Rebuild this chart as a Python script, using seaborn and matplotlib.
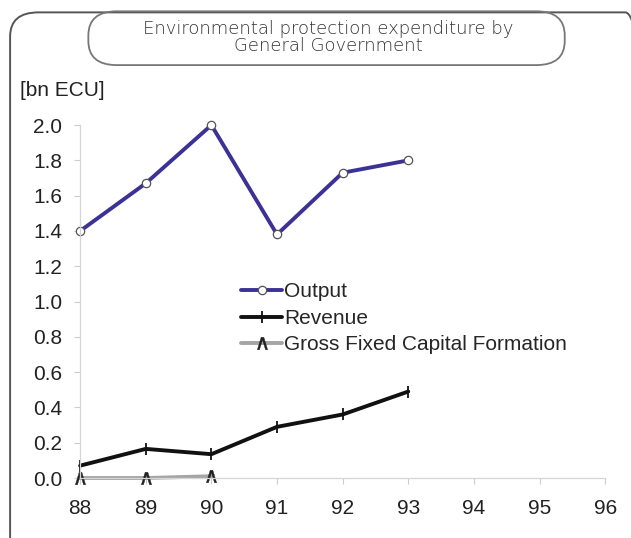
import pandas as pd
import matplotlib.pyplot as plt
import seaborn as sns
from matplotlib.patches import FancyBboxPatch

# data
years = [88, 89, 90, 91, 92, 93]
output = [1.40, 1.67, 2.00, 1.38, 1.73, 1.80]
revenue = [0.07, 0.165, 0.135, 0.29, 0.36, 0.49]
gfcf_years = [88, 89, 90]
gfcf = [0.0, 0.0, 0.01]

x_ticks = [88, 89, 90, 91, 92, 93, 94, 95, 96]
y_ticks = [0.0, 0.2, 0.4, 0.6, 0.8, 1.0, 1.2, 1.4, 1.6, 1.8, 2.0]

df_out = pd.DataFrame({'year': years, 'value': output})
df_rev = pd.DataFrame({'year': years, 'value': revenue})
df_gfcf = pd.DataFrame({'year': gfcf_years, 'value': gfcf})

sns.set_theme(style='white')
plt.rcParams['font.family'] = ['Liberation Sans', 'DejaVu Sans']

fig = plt.figure(figsize=(6.31, 5.38), dpi=100)
ax = fig.add_axes([0.127, 0.1115, 0.832, 0.656])

sns.lineplot(data=df_out, x='year', y='value', ax=ax, color='#3b3196', linewidth=2.8,
             marker='o', markersize=6, markerfacecolor='white', markeredgecolor='#555555',
             markeredgewidth=0.9, label='Output', clip_on=False)
sns.lineplot(data=df_rev, x='year', y='value', ax=ax, color='#111111', linewidth=2.8,
             marker='|', markersize=9, markeredgecolor='#111111',
             markeredgewidth=1.3, label='Revenue', clip_on=False)
sns.lineplot(data=df_gfcf, x='year', y='value', ax=ax, color='#a5a5a5', linewidth=2.8,
             marker=r'$\wedge$', markersize=9, markerfacecolor='#222222',
             markeredgecolor='#222222', markeredgewidth=0.3,
             label='Gross Fixed Capital Formation', clip_on=False)

ax.set_xlim(88, 96)
ax.set_ylim(0, 2.0)
ax.set_xticks(x_ticks)
ax.set_xticklabels([str(t) for t in x_ticks])
ax.set_yticks(y_ticks)
ax.set_yticklabels([f'{t:.1f}' for t in y_ticks])
ax.set_xlabel('')
ax.set_ylabel('')
ax.tick_params(axis='both', labelsize=15, length=4, width=0.8,
               direction='out', bottom=True, left=True)
ax.tick_params(axis='x', pad=11, colors='#cccccc', labelcolor='#222222')
ax.tick_params(axis='y', pad=9, colors='#cccccc', labelcolor='#222222')
for side in ['top', 'right']:
    ax.spines[side].set_visible(False)
for side in ['left', 'bottom']:
    ax.spines[side].set_color('#d5d5d5')
    ax.spines[side].set_linewidth(0.9)

leg = ax.legend(loc='upper left', bbox_to_anchor=(0.29, 0.578), frameon=False,
                fontsize=15, handlelength=2.0, handletextpad=0.1, labelspacing=0.36,
                borderaxespad=0)

fig.text(0.032, 0.822, '[bn ECU]', fontsize=15, color='#222222')

# outer rounded frame and title box
fig.patches.append(FancyBboxPatch((0.016, -0.05), 1.02, 1.027,
                                  boxstyle='round,pad=0,rounding_size=0.045',
                                  transform=fig.transFigure, fill=False,
                                  edgecolor='#555555', linewidth=1.4))
fig.patches.append(FancyBboxPatch((0.14, 0.879), 0.755, 0.1,
                                  boxstyle='round,pad=0,rounding_size=0.045',
                                  transform=fig.transFigure, fill=False,
                                  edgecolor='#777777', linewidth=1.3))
fig.text(0.52, 0.93, 'Environmental protection expenditure by\nGeneral Government',
         ha='center', va='center', fontsize=13, color='#333333',
         family=['DejaVu Sans'], linespacing=0.9, fontweight='light')

fig.savefig('out.png', dpi=100, facecolor='white')
